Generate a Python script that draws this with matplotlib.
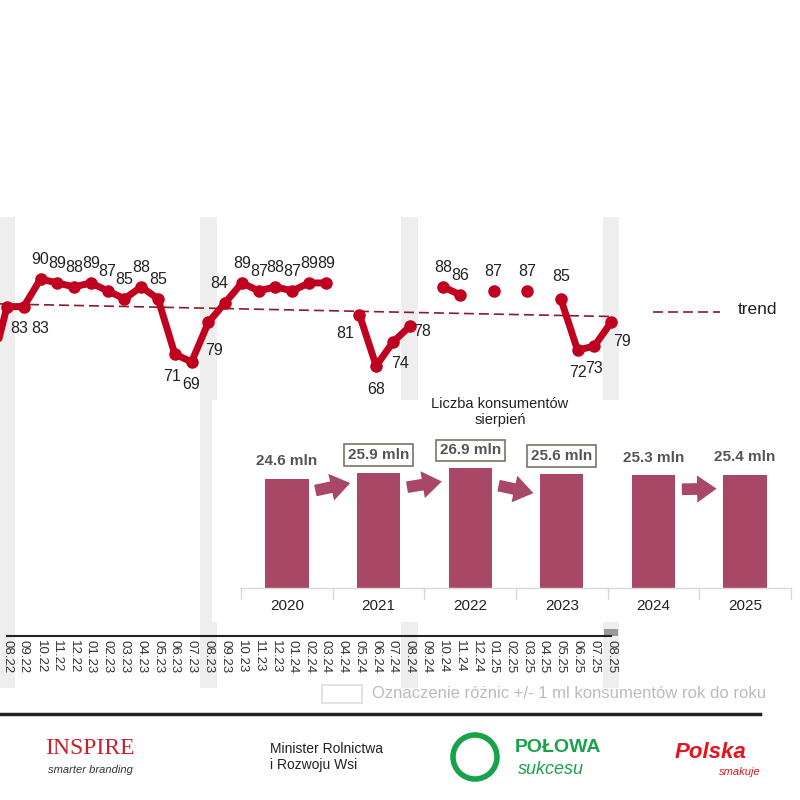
import matplotlib
matplotlib.use("Agg")
import matplotlib.pyplot as plt
import numpy as np
from matplotlib.patches import Rectangle

plt.rcParams["font.family"] = "Liberation Sans"

months = ["08.22","09.22","10.22","11.22","12.22","01.23","02.23","03.23","04.23","05.23","06.23","07.23",
          "08.23","09.23","10.23","11.23","12.23","01.24","02.24","03.24","04.24","05.24","06.24","07.24",
          "08.24","09.24","10.24","11.24","12.24","01.25","02.25","03.25","04.25","05.25","06.25","07.25","08.25"]
prev_value = 66
values = [83,83,90,89,88,89,87,85,88,85,71,69,
          79,84,89,87,88,87,89,89,np.nan,81,68,74,
          78,np.nan,88,86,np.nan,87,np.nan,87,np.nan,85,72,73,79]
trend_start, trend_end = 83.7, 80.5

years = ["2020","2021","2022","2023","2024","2025"]
consumers = [24.6,25.9,26.9,25.6,25.3,25.4]
boxed = [False,True,True,True,False,False]
arrows_between = [(0,1),(1,2),(2,3),(4,5)]

RED = "#c0001f"
BAR = "#a84866"
fig = plt.figure(figsize=(8,8), dpi=100)
W = H = 800.0
def fc(x0, y0, x1, y1):
    return [x0/W, 1-y1/H, (x1-x0)/W, (y1-y0)/H]

ax = fig.add_axes(fc(0,217,800,636))
ax.set_xlim(-7/16.78, (800-7)/16.78)
ax.set_ylim(-0.4, 105.7)
for s in ax.spines.values(): s.set_visible(False)
ax.set_yticks([]); ax.set_xticks([])

for i in [0,12,24,36]:
    ax.axvspan(i-0.5, i+0.5, color="#eeeeee", zorder=0, lw=0)
x = np.arange(len(months))
v = np.array(values, dtype=float)
ax.plot(np.r_[-1, x], np.r_[prev_value, v], color=RED, lw=5, marker="o", ms=8, zorder=3,
        solid_capstyle="round")
ax.plot([-0.5, 36], [trend_start, trend_end], ls=(0,(6,3)), color="#8b1a2a", lw=1.2, zorder=2)
ax.plot([0,36],[-0.3,-0.3], color="#222222", lw=1.5, clip_on=False)

offsets = {0:(9,-16),1:(12,-16),10:(-2,-16),11:(0,-16),12:(4,-20),13:(-4,14),21:(-10,-14),
           22:(0,-17),23:(5,-15),24:(9,-4),33:(0,16),34:(0,-16),35:(0,-16),36:(8,-14)}
for i, val in enumerate(values):
    if np.isnan(val): continue
    dx, dy = offsets.get(i, (0,14))
    ax.annotate(f"{int(val)}", (i, val), xytext=(dx, dy), textcoords="offset points",
                ha="center", va="center", fontsize=11.5, color="#222222", zorder=4)

for i, m in enumerate(months):
    if i % 12 == 0:
        ax.add_patch(Rectangle((i-0.5, -13.5), 1, 13.1, color="#eeeeee", clip_on=False, lw=0, zorder=0))
    ax.text(i, -1.5, m, rotation=270, ha="center", va="top", fontsize=9.5, color="#333333")
ax.add_patch(Rectangle((35.6, -0.3), 0.8, 1.6, color="#999999", clip_on=False, lw=0))

fig.add_artist(plt.Line2D([653/W, 720/W], [1-312/H, 1-312/H], ls=(0,(6,3)), color="#8b1a2a", lw=1.2,
                          transform=fig.transFigure))
fig.text(738/W, 1-309/H, "trend", fontsize=12.5, va="center", color="#222222")

fig.add_artist(Rectangle((212/W, 1-622/H), 588/W, 222/H, transform=fig.transFigure,
                         fc="white", ec="none", zorder=4))
bx = fig.add_axes(fc(212,400,800,622))
bx.set_zorder(5)
bx.axis("off")
bx.set_xlim((212-287)/91.6, (800-287)/91.6)
bx.set_ylim(-(622-588)/4.45, (588-400)/4.45)
bx.bar(range(6), consumers, width=0.47, color=BAR, zorder=2)
bx.plot([(240-287)/91.6, (790-287)/91.6], [0,0], color="#d9d9d9", lw=1)
for i in range(7):
    bx.plot([i-0.5, i-0.5], [0, -2.5], color="#d9d9d9", lw=1)
for i, (yr, c) in enumerate(zip(years, consumers)):
    bx.text(i, -4, yr, ha="center", va="center", fontsize=11, color="#222222")
    bx.text(i, c+4, f"{c} mln", ha="center", va="center", fontsize=11, fontweight="bold",
            color="#555555",
            bbox=dict(boxstyle="square,pad=0.25", fc="white", ec="#777766", lw=1.2) if boxed[i] else None)
for a, b in arrows_between:
    y0 = 22 + (consumers[a]-25)*0.6
    y1 = y0 + (consumers[b]-consumers[a])*1.5
    bx.annotate("", xy=(a+0.72, y1), xytext=(a+0.28, y0),
                arrowprops=dict(arrowstyle="simple,head_length=1.0,head_width=1.4,tail_width=0.6",
                                fc=BAR, ec="none", mutation_scale=14), zorder=3)
fig.text(500/W, 1-412/H, "Liczba konsumentów\nsierpień", ha="center", va="center", fontsize=10.5,
         color="#222222", zorder=10)

fig.add_artist(Rectangle((322/W, 1-703/H), 40/W, 18/H, transform=fig.transFigure, fill=False,
                         ec="#dddddd", lw=1.2))
fig.text(372/W, 1-694/H, "Oznaczenie różnic +/- 1 ml konsumentów rok do roku", fontsize=12,
         va="center", color="#bbbbbb")
fig.add_artist(plt.Line2D([0, 760/W], [1-714/H, 1-714/H], color="#222222", lw=2.5,
                          transform=fig.transFigure))

fig.text(90/W, 1-748/H, "INSPIRE", fontsize=17, family="Liberation Serif", color="#c8202f",
         ha="center", va="center")
fig.text(90/W, 1-770/H, "smarter branding", fontsize=8, color="#333333", ha="center", va="center",
         style="italic")
fig.text(270/W, 1-757/H, "Minister Rolnictwa\ni Rozwoju Wsi", fontsize=10, color="#222222", va="center")
fig.add_artist(plt.Circle((475/W, 1-757/H), 22/W, transform=fig.transFigure, fc="white",
                          ec="#1aa24a", lw=4))
fig.text(515/W, 1-748/H, "POŁOWA", fontsize=14, fontweight="bold", color="#1aa24a", va="center")
fig.text(518/W, 1-770/H, "sukcesu", fontsize=13, color="#1aa24a", va="center", style="italic")
fig.text(710/W, 1-752/H, "Polska", fontsize=16, fontweight="bold", style="italic", color="#e3141d",
         ha="center", va="center")
fig.text(740/W, 1-772/H, "smakuje", fontsize=8, style="italic", color="#e3141d", ha="center", va="center")

fig.savefig("out.png", dpi=100)
